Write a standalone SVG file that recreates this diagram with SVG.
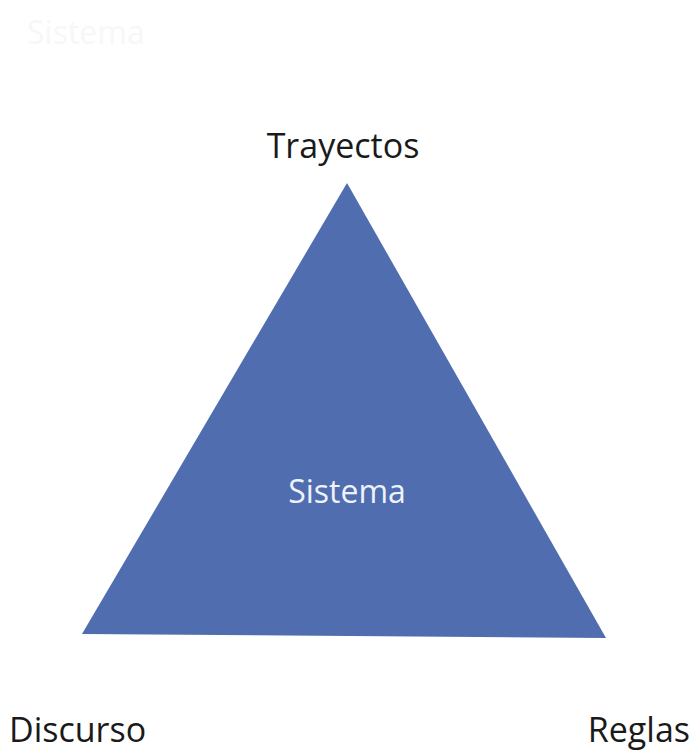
<svg xmlns="http://www.w3.org/2000/svg" width="697" height="753" viewBox="0 0 697 753">
<style>
.lbl{font-family:"Open Sans","Noto Sans","Liberation Sans",sans-serif;font-size:34px;fill:#1a1a1a}
.inner{font-family:"Open Sans","Noto Sans","Liberation Sans",sans-serif;font-size:32px;fill:#eef2fa}
</style>
<rect width="697" height="753" fill="#ffffff"/>
<text x="27" y="44" font-family="Open Sans, sans-serif" font-size="32" fill="#f7f7f7">Sistema</text>
<g id="sistema">
<polygon points="347,183 82,634 606,638" fill="#4f6daf"/>
<text class="inner" x="347" y="503" text-anchor="middle">Sistema</text>
</g>
<g id="trayectos"><text class="lbl" x="343" y="158" text-anchor="middle">Trayectos</text></g>
<g id="discurso"><text class="lbl" x="9" y="742">Discurso</text></g>
<g id="reglas"><text class="lbl" x="690" y="742" text-anchor="end">Reglas</text></g>
<g id="connectors"></g>
</svg>
